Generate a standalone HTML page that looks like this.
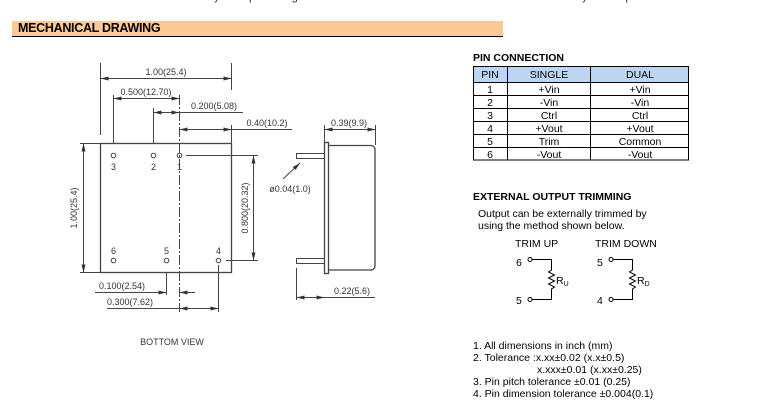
<!DOCTYPE html>
<html><head><meta charset="utf-8"><style>
body{margin:0;width:770px;height:420px;background:#fff;overflow:hidden;position:relative;font-family:"Liberation Sans",sans-serif}
.t{position:absolute;white-space:nowrap}
</style></head><body>
<div class="t" style="left:100px;top:-9px;font-size:11px;color:#222">LCD15-48S05 Efficiency vs. Input Voltage</div>
<div class="t" style="left:468px;top:-9px;font-size:11px;color:#222">LCD15-48S05 Efficiency vs. Output Load</div>
<div style="position:absolute;left:12px;top:21px;width:491px;height:15px;background:#fdc996;border-bottom:1.5px solid #000"></div>
<div class="t" style="left:18px;top:21px;font-size:12.5px;font-weight:bold;letter-spacing:-0.3px">MECHANICAL DRAWING</div>

<svg width="770" height="420" style="position:absolute;left:0;top:0" font-family="Liberation Sans, sans-serif">
<defs><marker id="a" markerWidth="8" markerHeight="6" refX="8" refY="3" orient="auto-start-reverse" markerUnits="userSpaceOnUse"><path d="M0,1 L8,3 L0,5z" fill="#333"/></marker></defs>
<g stroke="#444" stroke-width="1" fill="none">
<rect x="100.5" y="143.5" width="131" height="129" stroke-width="1.3"/>
<!-- extension lines -->
<path d="M100.5 63V135 M231.5 63V90 M113.5 95V143 M153.5 108V143 M231.5 125V143 M80 143.5H100 M80 272.5H100 M186 155.5H258 M226 260.5H258 M166.5 272V295 M218.5 265V312 M296.5 268V300 M324.5 125V142 M375.5 125V145"/>
<path d="M179.5 95V312" stroke-dasharray="10,2,2,2"/>
<!-- dims -->
<path d="M100.5 78.5H231.5" marker-start="url(#a)" marker-end="url(#a)"/>
<path d="M113.5 98.5H179.5" marker-start="url(#a)" marker-end="url(#a)"/>
<path d="M153.5 112.5H179.5" marker-start="url(#a)" marker-end="url(#a)"/><path d="M179.5 112.5H243"/>
<path d="M179.5 129.5H231.5" marker-start="url(#a)" marker-end="url(#a)"/><path d="M231.5 129.5H292"/>
<path d="M83.5 143.5V272.5" marker-start="url(#a)" marker-end="url(#a)"/>
<path d="M253.5 155.5V260.5" marker-start="url(#a)" marker-end="url(#a)"/>
<path d="M324.5 129.5H375.5" marker-start="url(#a)" marker-end="url(#a)"/>
<path d="M95 292.5H166.5" marker-end="url(#a)"/><path d="M195 292.5H179.5" marker-end="url(#a)"/>
<path d="M107 308.5H179.5"/><path d="M179.5 308.5H218.5" marker-start="url(#a)" marker-end="url(#a)"/>
<path d="M296.5 297.5H324.5" marker-start="url(#a)" marker-end="url(#a)"/><path d="M324.5 297.5H375"/>
<path d="M283 179L300 163" marker-end="url(#a)"/>
<!-- pins -->
<circle cx="113.5" cy="155.5" r="2.3"/><circle cx="153.5" cy="155.5" r="2.3"/><circle cx="179.5" cy="155.5" r="2.3"/>
<circle cx="113.5" cy="260.5" r="2.3"/><circle cx="166.5" cy="260.5" r="2.3"/><circle cx="218.5" cy="260.5" r="2.3"/>
<!-- side view -->
<rect x="324.5" y="142.5" width="4" height="131" stroke-width="1.3"/>
<path d="M328.5 145.5H371a4 4 0 0 1 4 4V266a4 4 0 0 1-4 4H328.5" stroke-width="1.3"/>
<rect x="296.5" y="153.5" width="28" height="5"/><rect x="296.5" y="258.5" width="28" height="5"/>
</g>
<g font-size="9" fill="#333">
<text x="166" y="75" text-anchor="middle">1.00(25.4)</text>
<text x="146" y="95" text-anchor="middle">0.500(12.70)</text>
<text x="214" y="109" text-anchor="middle">0.200(5.08)</text>
<text x="267" y="126" text-anchor="middle">0.40(10.2)</text>
<text x="349" y="126" text-anchor="middle">0.39(9.9)</text>
<text x="290" y="192" text-anchor="middle">ø0.04(1.0)</text>
<text x="352" y="294" text-anchor="middle">0.22(5.6)</text>
<text x="122" y="289" text-anchor="middle">0.100(2.54)</text>
<text x="130" y="305" text-anchor="middle">0.300(7.62)</text>
<text x="172" y="345" text-anchor="middle">BOTTOM  VIEW</text>
<text x="113.5" y="170" text-anchor="middle">3</text><text x="153.5" y="170" text-anchor="middle">2</text><text x="179.5" y="170" text-anchor="middle">1</text>
<text x="113.5" y="254" text-anchor="middle">6</text><text x="166.5" y="254" text-anchor="middle">5</text><text x="218.5" y="254" text-anchor="middle">4</text>
<text transform="translate(77,208) rotate(-90)" text-anchor="middle">1.00(25.4)</text>
<text transform="translate(248,208) rotate(-90)" text-anchor="middle">0.800(20.32)</text>
</g>
<!-- table -->
<text x="473" y="61" font-size="10.5" font-weight="bold">PIN CONNECTION</text>
<rect x="473" y="66" width="216" height="16" fill="#bcd6f2"/>
<g stroke="#000" stroke-width="1" fill="none">
<rect x="473.5" y="66.5" width="215" height="93.5"/>
<path d="M507.5 66V160 M590.5 66V160 M473 82.5H689 M473 95.5H689 M473 108.5H689 M473 121.5H689 M473 134.5H689 M473 147.5H689"/>
</g>
<g font-size="10.5" text-anchor="middle">
<text x="490" y="78">PIN</text><text x="549" y="78">SINGLE</text><text x="640" y="78">DUAL</text>
<text x="490" y="93">1</text><text x="549" y="93">+Vin</text><text x="640" y="93">+Vin</text>
<text x="490" y="106">2</text><text x="549" y="106">-Vin</text><text x="640" y="106">-Vin</text>
<text x="490" y="119">3</text><text x="549" y="119">Ctrl</text><text x="640" y="119">Ctrl</text>
<text x="490" y="132">4</text><text x="549" y="132">+Vout</text><text x="640" y="132">+Vout</text>
<text x="490" y="145">5</text><text x="549" y="145">Trim</text><text x="640" y="145">Common</text>
<text x="490" y="158">6</text><text x="549" y="158">-Vout</text><text x="640" y="158">-Vout</text>
</g>
<text x="473" y="200" font-size="10.5" font-weight="bold">EXTERNAL OUTPUT TRIMMING</text>
<g font-size="10.5">
<text x="478" y="217">Output can be externally trimmed by</text>
<text x="478" y="229">using the method shown below.</text>
<text x="515" y="247">TRIM UP</text><text x="595" y="247">TRIM DOWN</text>
<text x="516" y="266">6</text><text x="516" y="304">5</text>
<text x="597" y="266">5</text><text x="597" y="304">4</text>
<text x="556" y="284">R<tspan font-size="7" dy="2">U</tspan></text>
<text x="637" y="284">R<tspan font-size="7" dy="2">D</tspan></text>
</g>
<g stroke="#000" stroke-width="1" fill="none">
<circle cx="530" cy="259.5" r="2"/><path d="M532 259.5H551.5V270l-3 2 6 3-6 3 6 3-6 3 6 3-3 2V299.5H532"/><circle cx="530" cy="299.5" r="2"/>
<circle cx="611" cy="259.5" r="2"/><path d="M613 259.5H632.5V270l-3 2 6 3-6 3 6 3-6 3 6 3-3 2V299.5H613"/><circle cx="611" cy="299.5" r="2"/>
</g>
<g font-size="10.5">
<text x="473" y="349">1. All dimensions in inch (mm)</text>
<text x="473" y="361">2. Tolerance :x.xx±0.02 (x.x±0.5)</text>
<text x="537" y="373">x.xxx±0.01 (x.xx±0.25)</text>
<text x="473" y="385">3. Pin pitch tolerance ±0.01 (0.25)</text>
<text x="473" y="397">4. Pin dimension tolerance ±0.004(0.1)</text>
</g>
</svg>
</body></html>
